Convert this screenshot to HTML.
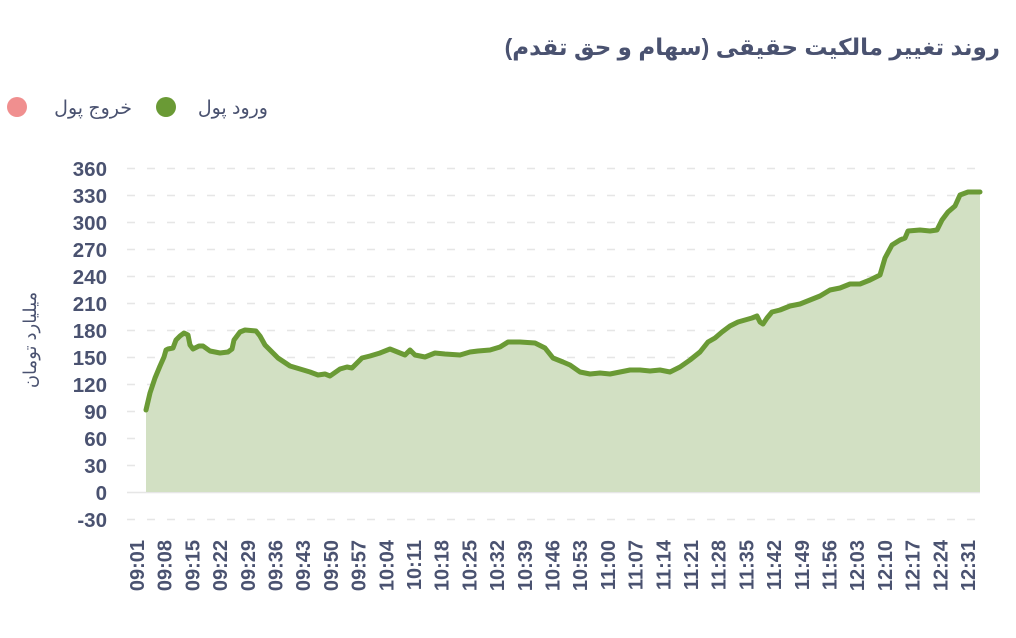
<!DOCTYPE html>
<html><head><meta charset="utf-8"><style>
body{margin:0;background:#fff;width:1016px;height:633px;overflow:hidden;font-family:"Liberation Sans","Noto Sans CJK SC",sans-serif}
</style></head><body>
<svg width="1016" height="633" xmlns="http://www.w3.org/2000/svg" font-family="Liberation Sans, DejaVu Sans, sans-serif">
<text x="1000" y="55" text-anchor="start" font-size="23" font-weight="bold" fill="#4a5270" direction="rtl">روند تغییر مالکیت حقیقی (سهام و حق تقدم)</text>
<circle cx="166" cy="107" r="10" fill="#6a9a35"/>
<text x="268" y="114" text-anchor="start" font-size="19" fill="#4a5270" direction="rtl">ورود پول</text>
<circle cx="17" cy="107" r="10" fill="#f08f8f"/>
<text x="132" y="114" text-anchor="start" font-size="19" fill="#4a5270" direction="rtl">خروج پول</text>
<g stroke="#e6e6e6" stroke-width="1.5" stroke-dasharray="8,12">
<line x1="127" x2="980" y1="168.5" y2="168.5"/><line x1="127" x2="980" y1="195.5" y2="195.5"/><line x1="127" x2="980" y1="222.5" y2="222.5"/><line x1="127" x2="980" y1="249.5" y2="249.5"/><line x1="127" x2="980" y1="276.5" y2="276.5"/><line x1="127" x2="980" y1="303.5" y2="303.5"/><line x1="127" x2="980" y1="330.5" y2="330.5"/><line x1="127" x2="980" y1="357.5" y2="357.5"/><line x1="127" x2="980" y1="384.5" y2="384.5"/><line x1="127" x2="980" y1="411.5" y2="411.5"/><line x1="127" x2="980" y1="438.5" y2="438.5"/><line x1="127" x2="980" y1="465.5" y2="465.5"/><line x1="127" x2="980" y1="519.5" y2="519.5"/>
</g>
<line x1="127" x2="980" y1="492.5" y2="492.5" stroke="#e6e6e6" stroke-width="1.5"/>
<g font-size="20.5" font-weight="bold" fill="#4a5270" text-anchor="end">
<text x="107" y="176">360</text><text x="107" y="203">330</text><text x="107" y="230">300</text><text x="107" y="257">270</text><text x="107" y="284">240</text><text x="107" y="311">210</text><text x="107" y="338">180</text><text x="107" y="365">150</text><text x="107" y="392">120</text><text x="107" y="419">90</text><text x="107" y="446">60</text><text x="107" y="473">30</text><text x="107" y="500">0</text><text x="107" y="527">-30</text>
</g>
<text transform="translate(36,340) rotate(-90)" text-anchor="middle" font-size="18" fill="#4a5270" direction="rtl">میلیارد تومان</text>
<g font-size="20" font-weight="bold" fill="#4a5270" text-anchor="end" id="xl"></g>
<path id="area" fill="#d2e0c3" stroke="none"/>
<path id="ln" fill="none" stroke="#6a9a35" stroke-width="5" stroke-linejoin="round" stroke-linecap="round"/>
</svg>
<script>
var p=[[146,410],[150,393],[155,378],[160,366],[164,357],[166,350],[168,349],[173,348],[176,340],[180,336],[184,333],[188,335],[190,345],[193,349],[199,346],[203,346],[210,351],[220,353],[228,352],[232,349],[234,340],[240,332],[245,330],[256,331],[260,336],[265,345],[272,352],[278,358],[290,366],[300,369],[310,372],[318,375],[325,374],[330,376],[340,369],[347,367],[352,368],[362,358],[370,356],[380,353],[390,349],[400,353],[405,355],[410,350],[415,355],[425,357],[435,353],[445,354],[460,355],[470,352],[478,351],[490,350],[500,347],[508,342],[520,342],[535,343],[545,348],[553,358],[563,362],[570,365],[580,372],[590,374],[600,373],[610,374],[620,372],[630,370],[640,370],[650,371],[660,370],[670,372],[680,367],[690,360],[700,352],[708,342],[715,338],[722,332],[730,326],[738,322],[745,320],[752,318],[757,316],[760,322],[763,324],[767,318],[772,312],[780,310],[790,306],[800,304],[810,300],[820,296],[830,290],[840,288],[850,284],[860,284],[870,280],[880,275],[885,258],[892,245],[900,240],[905,238],[908,231],[920,230],[930,231],[937,230],[942,220],[948,212],[955,206],[960,195],[968,192],[980,192]];
var d="M"+p.map(function(a){return a.join(",")}).join("L");
document.getElementById("ln").setAttribute("d",d);
document.getElementById("area").setAttribute("d",d+"L980,492L146,492Z");
var labs=["09:01","09:08","09:15","09:22","09:29","09:36","09:43","09:50","09:57","10:04","10:11","10:18","10:25","10:32","10:39","10:46","10:53","11:00","11:07","11:14","11:21","11:28","11:35","11:42","11:49","11:56","12:03","12:10","12:17","12:24","12:31"];
var g=document.getElementById("xl"),s="";
for(var i=0;i<labs.length;i++){var x=137+i*27.7+7;s+='<text transform="translate('+x+',540) rotate(-90)">'+labs[i]+'</text>';}
g.innerHTML=s;
</script>
</body></html>
